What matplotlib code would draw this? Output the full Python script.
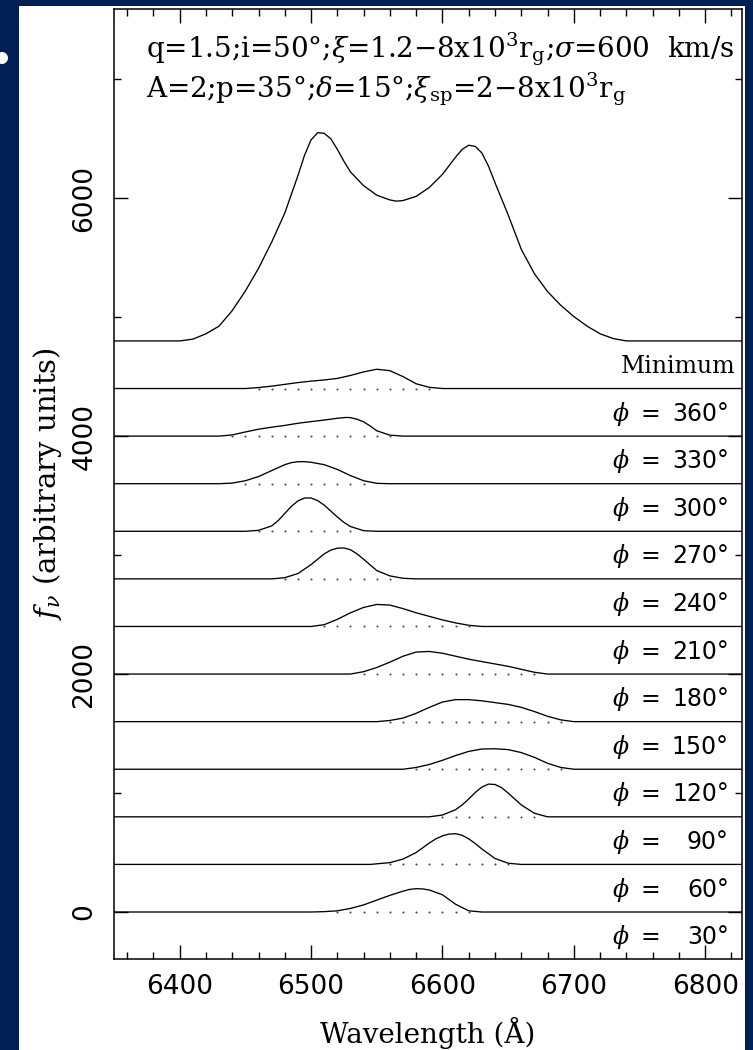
import matplotlib
matplotlib.use("Agg")
import matplotlib.pyplot as plt
import numpy as np
from matplotlib.patches import Rectangle, Ellipse
from matplotlib.ticker import MultipleLocator

plt.rcParams['font.family'] = ['DejaVu Serif', 'DejaVu Sans']
plt.rcParams['mathtext.fontset'] = 'dejavuserif'

# total profile at minimum (flux above its baseline)
wl_min = [6400, 6410, 6420, 6430, 6440, 6450, 6460, 6470, 6480, 6490, 6495, 6500, 6505,
          6510, 6515, 6520, 6525, 6530, 6540, 6550, 6560, 6565, 6570, 6580, 6590, 6600,
          6610, 6615, 6620, 6625, 6630, 6635, 6640, 6650, 6660, 6670, 6680, 6690, 6700,
          6710, 6720, 6730, 6740]
fl_min = [0, 15, 60, 125, 255, 420, 610, 830, 1075, 1390, 1560, 1690, 1750,
          1745, 1700, 1610, 1510, 1420, 1305, 1225, 1185, 1175, 1180, 1215, 1290, 1400,
          1545, 1610, 1645, 1635, 1580, 1470, 1330, 1060, 770, 565, 415, 300, 205,
          125, 60, 20, 0]

# spiral arm contribution at each phase
wl_360 = [6450, 6460, 6470, 6480, 6490, 6500, 6510, 6520, 6530, 6540, 6550, 6560, 6570, 6580, 6590, 6600]
fl_360 = [0, 8, 20, 35, 50, 62, 72, 85, 110, 140, 162, 150, 100, 40, 10, 0]

wl_330 = [6430, 6440, 6450, 6460, 6470, 6480, 6490, 6500, 6510, 6520, 6527, 6530, 6535, 6540,
          6545, 6550, 6560, 6570]
fl_330 = [0, 10, 35, 58, 75, 90, 108, 122, 135, 150, 157, 155, 142, 120, 85, 45, 8, 0]

wl_300 = [6430, 6440, 6450, 6460, 6470, 6480, 6485, 6490, 6495, 6500, 6510, 6520, 6530, 6540,
          6550, 6560]
fl_300 = [0, 5, 25, 60, 110, 160, 177, 185, 185, 180, 160, 120, 68, 25, 3, 0]

wl_270 = [6450, 6460, 6470, 6475, 6480, 6485, 6490, 6495, 6500, 6505, 6510, 6515, 6520, 6525,
          6530, 6540, 6550]
fl_270 = [0, 8, 45, 90, 150, 210, 255, 280, 280, 258, 220, 170, 120, 75, 40, 5, 0]

wl_240 = [6470, 6480, 6490, 6500, 6505, 6510, 6515, 6520, 6525, 6530, 6535, 6540, 6550, 6560,
          6570, 6580]
fl_240 = [0, 10, 45, 120, 165, 210, 242, 258, 260, 245, 210, 165, 70, 25, 5, 0]

wl_210 = [6500, 6510, 6520, 6530, 6540, 6550, 6560, 6570, 6580, 6590, 6600, 6610, 6620, 6630]
fl_210 = [0, 15, 60, 115, 160, 185, 180, 150, 115, 85, 55, 30, 10, 0]

wl_180 = [6530, 6540, 6550, 6560, 6570, 6580, 6590, 6600, 6610, 6620, 6630, 6640, 6650, 6660, 6670, 6680]
fl_180 = [0, 20, 55, 100, 150, 185, 190, 175, 150, 125, 105, 85, 65, 40, 15, 0]

wl_150 = [6550, 6560, 6570, 6580, 6590, 6600, 6610, 6620, 6630, 6640, 6650, 6660, 6670, 6680, 6690, 6700]
fl_150 = [0, 10, 30, 70, 120, 165, 185, 185, 175, 160, 145, 120, 85, 45, 15, 0]

wl_120 = [6570, 6580, 6590, 6600, 6610, 6620, 6630, 6640, 6650, 6660, 6670, 6680, 6690, 6700]
fl_120 = [0, 15, 40, 75, 115, 150, 170, 172, 165, 140, 100, 50, 15, 0]

wl_90 = [6590, 6600, 6610, 6615, 6620, 6625, 6630, 6635, 6640, 6645, 6650, 6655, 6660, 6670, 6680]
fl_90 = [0, 15, 60, 100, 150, 205, 250, 275, 272, 245, 200, 150, 100, 30, 0]

wl_60 = [6545, 6560, 6570, 6580, 6590, 6595, 6600, 6605, 6610, 6615, 6620, 6625, 6630, 6640,
         6650, 6660]
fl_60 = [0, 15, 45, 100, 180, 215, 240, 255, 258, 245, 215, 175, 130, 50, 10, 0]

wl_30 = [6500, 6510, 6520, 6530, 6540, 6550, 6560, 6570, 6575, 6580, 6585, 6590, 6600, 6605,
         6610, 6620, 6630]
fl_30 = [0, 3, 10, 30, 60, 100, 140, 175, 190, 196, 194, 185, 145, 105, 65, 10, 0]

phases = [360, 330, 300, 270, 240, 210, 180, 150, 120, 90, 60, 30]
offsets = [4400, 4000, 3600, 3200, 2800, 2400, 2000, 1600, 1200, 800, 400, 0]
offset_min = 4800

spectra = [(wl_360, fl_360), (wl_330, fl_330), (wl_300, fl_300), (wl_270, fl_270),
           (wl_240, fl_240), (wl_210, fl_210), (wl_180, fl_180), (wl_150, fl_150),
           (wl_120, fl_120), (wl_90, fl_90), (wl_60, fl_60), (wl_30, fl_30)]

xmin, xmax = 6350, 6828
ymin, ymax = -395, 7590

fig = plt.figure(figsize=(7.53, 10.5), dpi=100)
fig.patch.set_facecolor('#021f55')
fig.patches.append(Rectangle((19 / 753, 0), 726 / 753, 1 - 6 / 1050, transform=fig.transFigure,
                             facecolor='white', edgecolor='none', zorder=-2))
fig.patches.append(Ellipse((2 / 753, 1 - 58 / 1050), 12 / 753, 12 / 1050, transform=fig.transFigure,
                           facecolor='white', edgecolor='none', zorder=-1))

ax = fig.add_axes([114 / 753, 1 - 959 / 1050, 628 / 753, 950 / 1050])
ax.set_facecolor('white')


def draw(wl, fl, base):
    x = np.concatenate([[xmin], wl, [xmax]])
    y = np.concatenate([[0], fl, [0]]) + base
    ax.plot(x, y, color='black', lw=0.95, solid_joinstyle='round')


draw(wl_min, fl_min, offset_min)
ax.text(6823, offset_min - 270, 'Minimum', ha='right', va='baseline', fontsize=17)

for (wl, fl), base, ph in zip(spectra, offsets, phases):
    draw(wl, fl, base)
    wl = np.array(wl)
    fl = np.array(fl)
    # dotted continuum level under the emission bump
    dots = np.arange(np.ceil(wl[fl > 5].min() / 10) * 10, wl[fl > 5].max() + 1, 10)
    ax.plot(dots, np.full(len(dots), base), ls='none', marker='o', ms=1.5,
            color='0.3', mec='none')
    ax.text(6729, base - 270, r'$\phi$', ha='left', va='baseline', fontsize=17)
    ax.text(6758, base - 270, '=', ha='center', va='baseline', fontsize=17,
            family='DejaVu Sans')
    ax.text(6818, base - 270, f'{ph}°', ha='right', va='baseline', fontsize=17,
            family='DejaVu Sans')

ax.set_xlim(xmin, xmax)
ax.set_ylim(ymin, ymax)
ax.xaxis.set_major_locator(MultipleLocator(100))
ax.xaxis.set_minor_locator(MultipleLocator(20))
ax.yaxis.set_major_locator(MultipleLocator(2000))
ax.yaxis.set_minor_locator(MultipleLocator(1000))
ax.tick_params(which='both', direction='in', top=True, right=True, width=1.0, color='black')
ax.tick_params(which='major', length=10)
ax.tick_params(which='minor', length=5)
ax.tick_params(axis='x', labelsize=19, pad=11)
ax.tick_params(axis='y', labelsize=19, pad=12)
for lab in ax.get_xticklabels() + ax.get_yticklabels():
    lab.set_family('DejaVu Sans')
for lab in ax.get_yticklabels():
    lab.set_rotation(90)
    lab.set_va('center')
for sp in ax.spines.values():
    sp.set_linewidth(1.1)

ax.set_xlabel('Wavelength (Å)', fontsize=20, labelpad=12)
ax.set_ylabel(r'$f_\nu$ (arbitrary units)', fontsize=21, labelpad=5)

ax.text(6374, 7185, r'q=1.5;i=50°;$\xi$=1.2−8x10$^3$r$_\mathrm{g}$;$\sigma$=600  km/s',
        ha='left', va='baseline', fontsize=20)
ax.text(6374, 6850, r'A=2;p=35°;$\delta$=15°;$\xi_\mathrm{sp}$=2−8x10$^3$r$_\mathrm{g}$',
        ha='left', va='baseline', fontsize=20)

fig.savefig('out.png', dpi=100, facecolor=fig.get_facecolor())
